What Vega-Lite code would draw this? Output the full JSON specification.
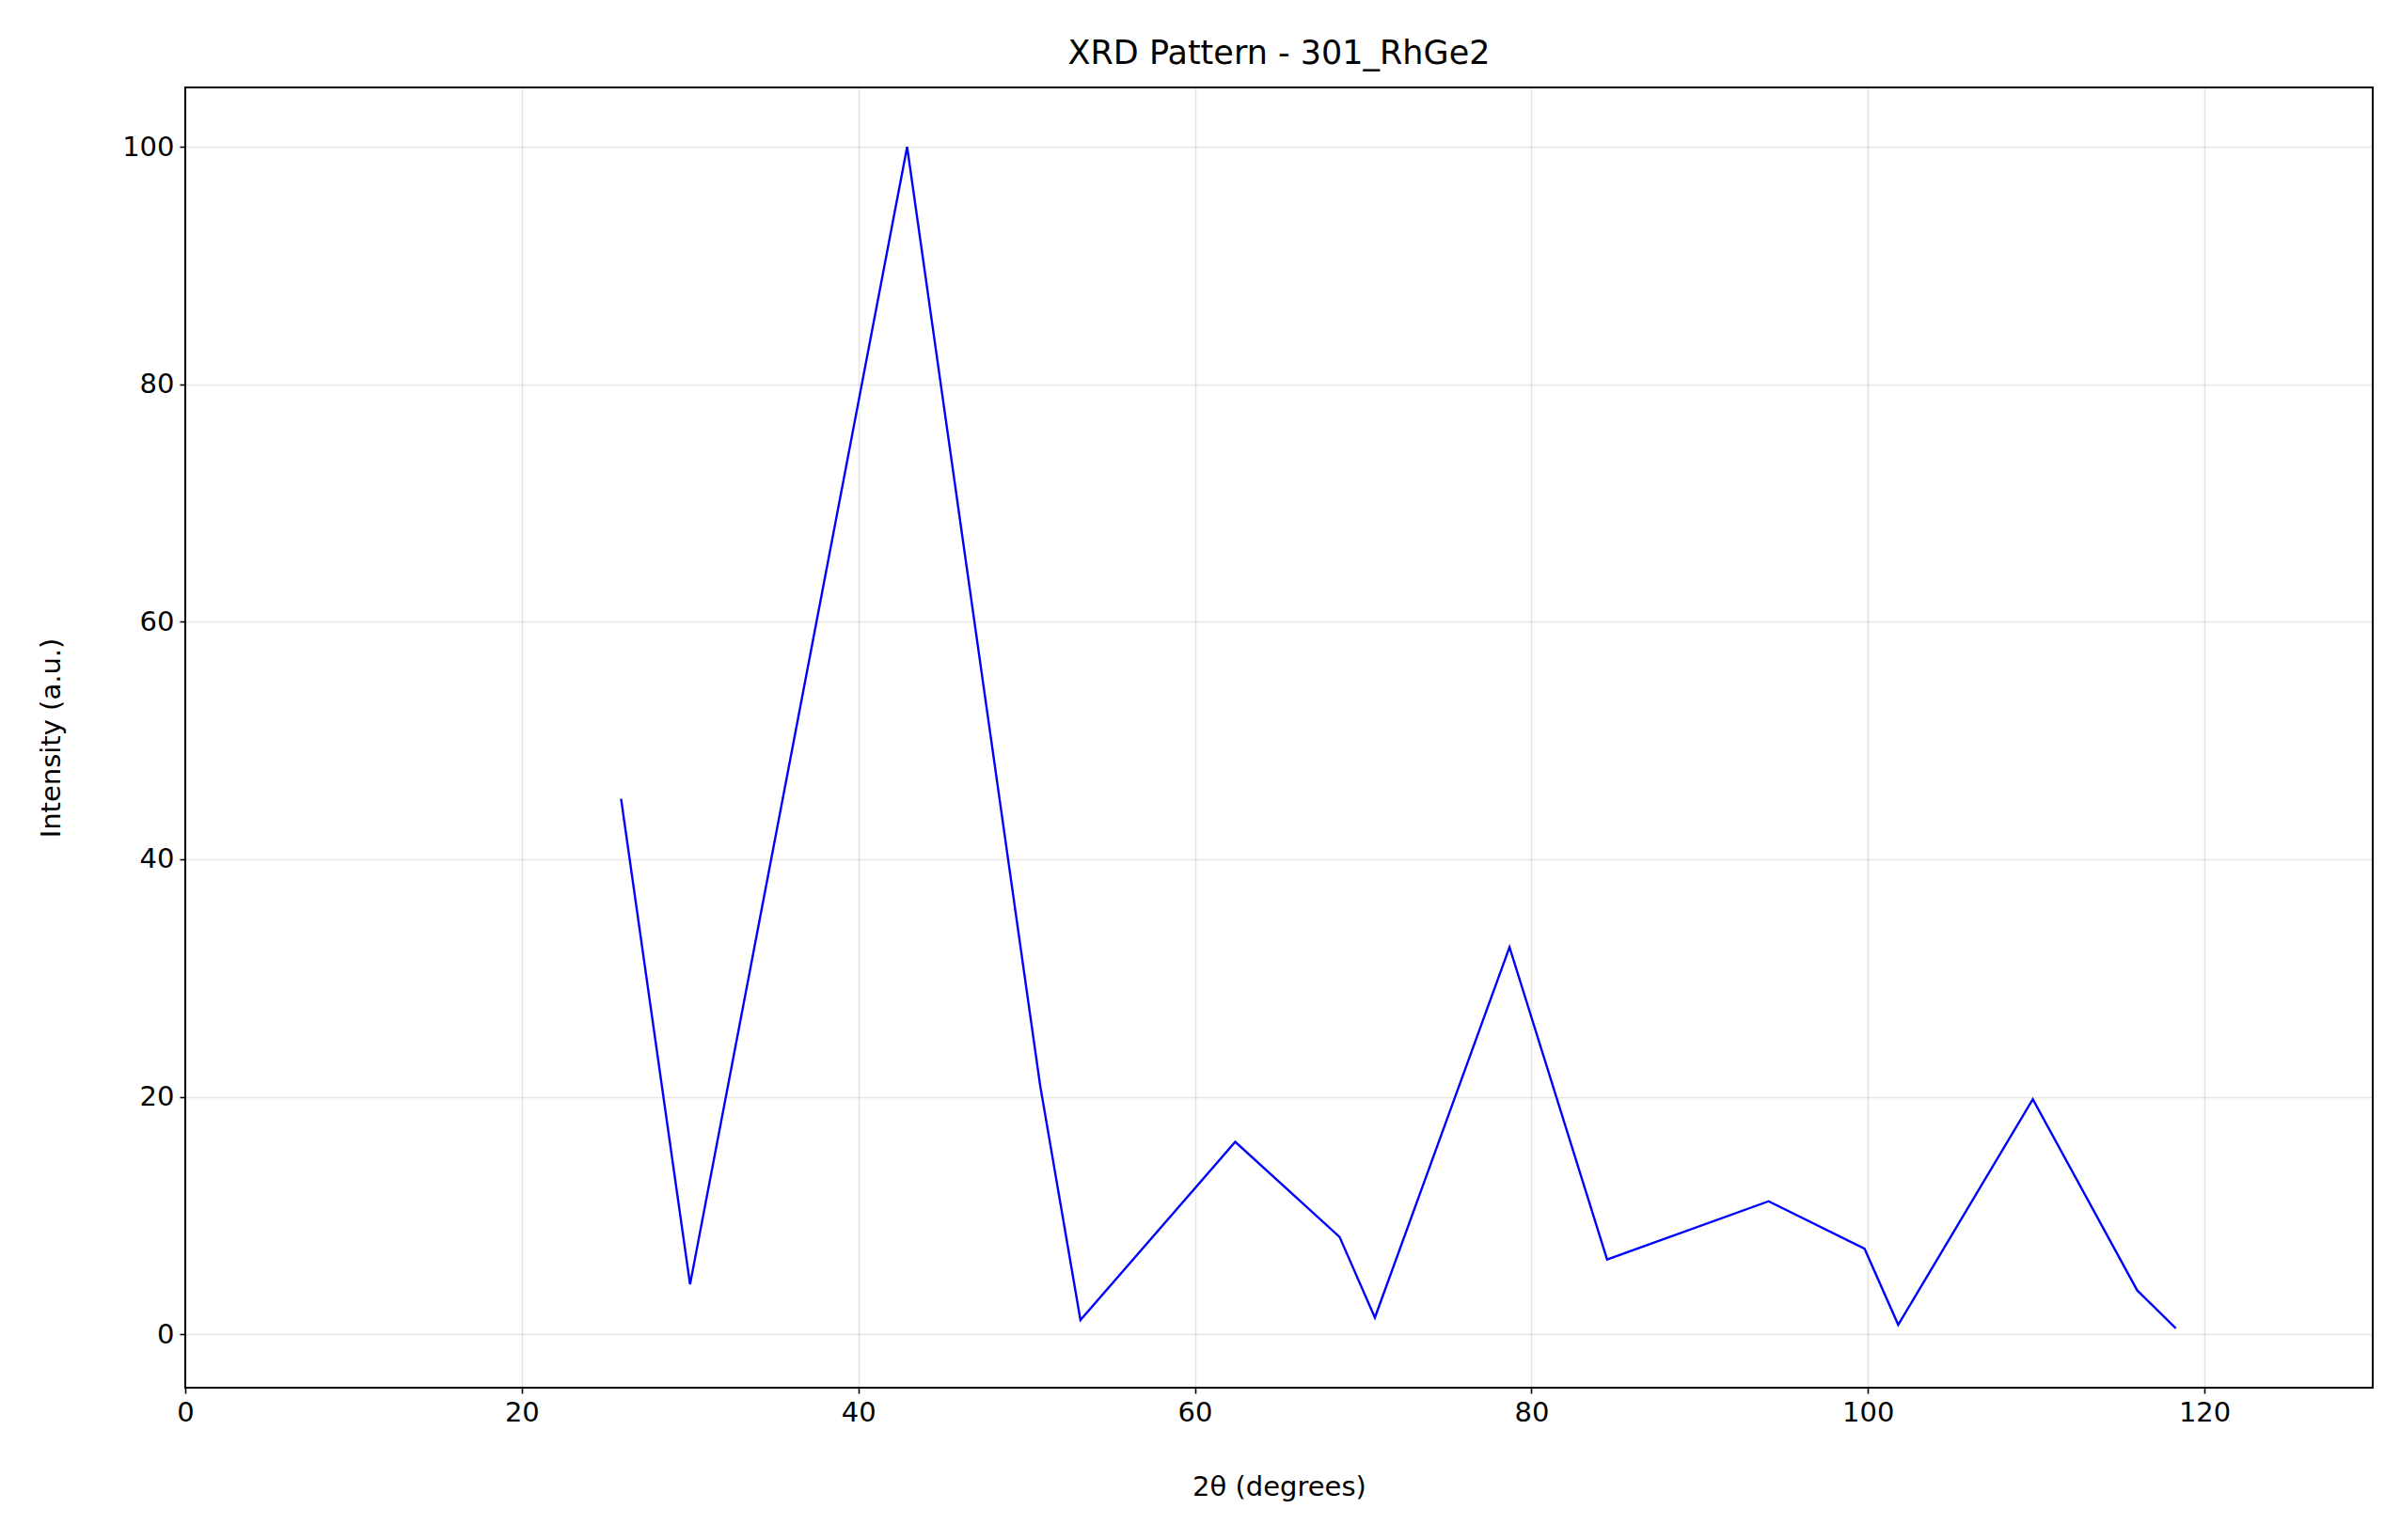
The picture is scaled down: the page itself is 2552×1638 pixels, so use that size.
{
  "$schema": "https://vega.github.io/schema/vega-lite/v6.json",
  "width": 2326,
  "height": 1383,
  "autosize": {"type": "none"},
  "padding": {"left": 197, "top": 93, "right": 29, "bottom": 162},
  "background": "#ffffff",
  "title": {"text": "XRD Pattern - 301_RhGe2", "font": "DejaVu Sans", "fontSize": 35, "fontWeight": "normal", "offset": 18, "color": "#000"},
  "data": {
    "values": [
      {"two_theta": 25.9, "intensity": 45.1},
      {"two_theta": 30.0, "intensity": 4.2},
      {"two_theta": 42.9, "intensity": 100},
      {"two_theta": 50.8, "intensity": 21},
      {"two_theta": 53.2, "intensity": 1.2},
      {"two_theta": 62.4, "intensity": 16.2},
      {"two_theta": 68.6, "intensity": 8.2},
      {"two_theta": 70.7, "intensity": 1.4},
      {"two_theta": 78.7, "intensity": 32.6},
      {"two_theta": 84.5, "intensity": 6.3},
      {"two_theta": 94.1, "intensity": 11.2},
      {"two_theta": 99.8, "intensity": 7.2},
      {"two_theta": 101.8, "intensity": 0.8},
      {"two_theta": 109.8, "intensity": 19.8},
      {"two_theta": 116.0, "intensity": 3.7},
      {"two_theta": 118.3, "intensity": 0.5}
    ]
  },
  "mark": {"type": "line", "color": "#0000ff", "strokeWidth": 2.4, "clip": true},
  "encoding": {
    "x": {"field": "two_theta", "type": "quantitative", "title": "2θ (degrees)",
      "scale": {"domain": [0, 130], "nice": false, "zero": false},
      "axis": {"values": [0, 20, 40, 60, 80, 100, 120]}},
    "y": {"field": "intensity", "type": "quantitative", "title": "Intensity (a.u.)",
      "scale": {"domain": [-4.5, 105], "nice": false, "zero": false},
      "axis": {"values": [0, 20, 40, 60, 80, 100]}}
  },
  "config": {
    "view": {"stroke": "#000", "strokeWidth": 2},
    "axis": {
      "labelFont": "DejaVu Sans", "titleFont": "DejaVu Sans",
      "labelFontSize": 29, "titleFontSize": 29, "titleFontWeight": "normal",
      "labelColor": "#000", "titleColor": "#000", "labelFlush": false,
      "grid": true, "gridColor": "#000", "gridOpacity": 0.1, "gridWidth": 1.6,
      "domain": false, "tickColor": "#000", "tickSize": 6, "tickWidth": 1.6,
      "labelPadding": 6
    },
    "axisX": {"titlePadding": 50},
    "axisY": {"titlePadding": 60}
  }
}
